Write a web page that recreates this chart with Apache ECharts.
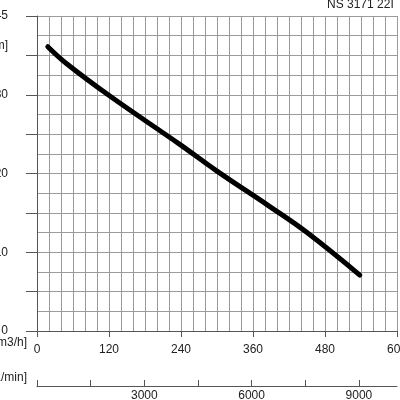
<!DOCTYPE html>
<html>
<head>
<meta charset="utf-8">
<script src="https://cdn.jsdelivr.net/npm/echarts@6/dist/echarts.min.js"></script>
<style>html,body{margin:0;padding:0;background:#fff}#chart{width:400px;height:400px}</style>
</head>
<body>
<div id="chart"></div>
<script>
// flow [m3/h] vs head [m]
const flow = [18, 50, 122, 238, 300, 388, 450, 538];
const head = [36.1, 33.9, 29.8, 23.7, 20.3, 15.8, 12.5, 7.1];
const yTicks = ['0', '10', '20', '30', '45'];
const rpmLabels = [3000, 6000, 9000];

const font = 'Liberation Sans';
const chart = echarts.init(document.getElementById('chart'));
chart.setOption({
    animation: false,
    grid: { left: 37, right: 3, top: 16, bottom: 69, outerBoundsMode: 'none', containLabel: false },
    graphic: [
        { type: 'text', left: 327, top: -1, style: { text: 'NS 3171 22I', font: '12px ' + font, fill: '#222' } },
        { type: 'text', right: 392, top: 40, style: { text: 'H [m]', font: '12px ' + font, fill: '#222' } },
        { type: 'text', right: 373, top: 337, style: { text: 'Q [m3/h]', font: '12px ' + font, fill: '#222' } },
        { type: 'text', right: 373, top: 372, style: { text: 'n [1/min]', font: '12px ' + font, fill: '#222' } }
    ],
    xAxis: [{
        type: 'value', min: 0, max: 600, interval: 120, offset: 7,
        axisLine: { lineStyle: { color: '#555' } },
        axisTick: { length: 6, lineStyle: { color: '#555' } },
        axisLabel: { color: '#222', fontFamily: font, fontSize: 12, margin: 6, showMaxLabel: true },
        splitLine: { show: false }
    }, {
        type: 'value', min: 0, max: 600, interval: 20,
        axisLine: { show: false }, axisTick: { show: false }, axisLabel: { show: false },
        splitLine: { lineStyle: { color: '#9a9a9a', width: 1 } }
    }, {
        type: 'value', min: 0, max: 10065, interval: 1500, offset: 55, position: 'bottom',
        axisLine: { lineStyle: { color: '#555' } },
        axisTick: { inside: true, length: 6, lineStyle: { color: '#555' } },
        axisLabel: {
            color: '#222', fontFamily: font, fontSize: 12, margin: 4, showMaxLabel: false,
            formatter: v => rpmLabels.includes(v) ? String(v) : ''
        },
        splitLine: { show: false }
    }],
    yAxis: [{
        type: 'value', min: 0, max: 40, interval: 5, offset: 14,
        axisLine: { show: true, lineStyle: { color: '#555' } },
        axisTick: { show: true, length: 11, lineStyle: { color: '#555' } },
        axisLabel: {
            color: '#222', fontFamily: font, fontSize: 12, margin: 15,
            formatter: v => v % 10 === 0 ? yTicks[v / 10] : ''
        },
        splitLine: { show: false }
    }, {
        type: 'value', min: 0, max: 40, interval: 2.5,
        axisLine: { show: false }, axisTick: { show: false }, axisLabel: { show: false },
        splitLine: { lineStyle: { color: '#9a9a9a', width: 1 } }
    }],
    series: [{
        type: 'line', xAxisIndex: 0, yAxisIndex: 0, smooth: 0.4, symbol: 'none',
        lineStyle: { color: '#000', width: 5, cap: 'round' },
        data: flow.map((f, i) => [f, head[i]])
    }]
});
</script>
</body>
</html>
